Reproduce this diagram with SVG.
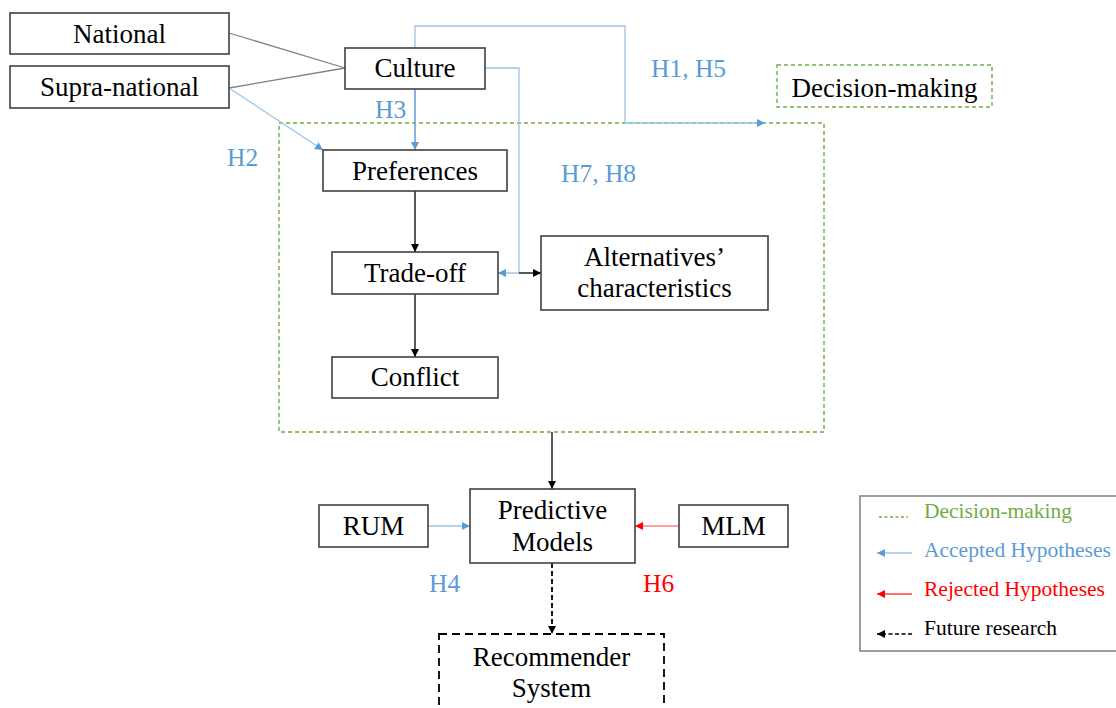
<svg xmlns="http://www.w3.org/2000/svg" width="1116" height="708" viewBox="0 0 1116 708">
<style>
.box{fill:#fff;stroke:#404040;stroke-width:1.6}
.t{font-family:"Liberation Serif","Times New Roman",serif;font-size:27px;fill:#000;text-anchor:middle}
.h{font-family:"Liberation Serif","Times New Roman",serif;font-size:25.5px}
.lg{font-family:"Liberation Serif","Times New Roman",serif;font-size:21.5px}
.blue{fill:#5B9BD5}
.red{fill:#FF0000}
.green{fill:#70AD47}
.gdash{fill:none;stroke:#70AD47;stroke-width:1.4;stroke-dasharray:4,3}
.lb{fill:none;stroke:#9DC3E6;stroke-width:1.3}
.k{fill:none;stroke:#000;stroke-width:1.3}
</style>
<defs>
<marker id="ab" viewBox="0 0 10 10" refX="10" refY="5" markerWidth="8" markerHeight="8" markerUnits="userSpaceOnUse" orient="auto"><path d="M0,0 L10,5 L0,10 z" fill="#5B9BD5"/></marker>
<marker id="ak" viewBox="0 0 10 10" refX="10" refY="5" markerWidth="8" markerHeight="8" markerUnits="userSpaceOnUse" orient="auto"><path d="M0,0 L10,5 L0,10 z" fill="#000"/></marker>
<marker id="ar" viewBox="0 0 10 10" refX="10" refY="5" markerWidth="8" markerHeight="8" markerUnits="userSpaceOnUse" orient="auto"><path d="M0,0 L10,5 L0,10 z" fill="#FF0000"/></marker>
</defs>
<rect width="1116" height="708" fill="#fff"/>

<!-- decision-making frame -->
<rect id="frame" x="279" y="123" width="545" height="309" class="gdash"/>

<g id="connectors">
<line x1="229" y1="33" x2="345" y2="68" stroke="#808080" stroke-width="1.3"/>
<line x1="229" y1="88" x2="345" y2="68" stroke="#808080" stroke-width="1.3"/>
<line x1="229" y1="88" x2="323" y2="150" class="lb" marker-end="url(#ab)"/>
<line x1="415" y1="89" x2="415" y2="150" stroke="#6A9BD1" stroke-width="1.5" marker-end="url(#ab)"/>
<polyline points="415,48 415,26 625,26 625,123 765,123" class="lb" marker-end="url(#ab)"/>
<polyline points="485,68 519,68 519,273 498,273" class="lb" marker-end="url(#ab)"/>
<line x1="519" y1="273" x2="541" y2="273" class="k" marker-end="url(#ak)"/>
<line x1="415" y1="191" x2="415" y2="252" class="k" marker-end="url(#ak)"/>
<line x1="415" y1="294" x2="415" y2="357" class="k" marker-end="url(#ak)"/>
<line x1="552" y1="432" x2="552" y2="489" class="k" marker-end="url(#ak)"/>
<line x1="428" y1="526" x2="470" y2="526" class="lb" marker-end="url(#ab)"/>
<line x1="679" y1="526" x2="635" y2="526" fill="none" stroke="#FF8080" stroke-width="1.3" marker-end="url(#ar)"/>
<line x1="552" y1="563" x2="552" y2="634" fill="none" stroke="#000" stroke-width="1.8" stroke-dasharray="5,3" marker-end="url(#ak)"/>
</g>

<g id="national"><rect x="10" y="13" width="219" height="41" class="box"/><text x="119.5" y="43" class="t">National</text></g>
<g id="supra"><rect x="10" y="66" width="219" height="42" class="box"/><text x="119.5" y="96" class="t">Supra-national</text></g>
<g id="culture"><rect x="345" y="48" width="140" height="41" class="box"/><text x="415" y="77" class="t">Culture</text></g>
<g id="preferences"><rect x="323" y="150" width="184" height="41" class="box"/><text x="415" y="180" class="t">Preferences</text></g>
<g id="tradeoff"><rect x="332" y="252" width="166" height="42" class="box"/><text x="415" y="282" class="t">Trade-off</text></g>
<g id="alternatives"><rect x="541" y="236" width="227" height="74" class="box"/><text x="654.5" y="266" class="t">Alternatives’</text><text x="654.5" y="297" class="t">characteristics</text></g>
<g id="conflict"><rect x="332" y="357" width="166" height="41" class="box"/><text x="415" y="386" class="t">Conflict</text></g>
<g id="decision"><rect x="777" y="65" width="215" height="42" class="gdash"/><text x="884.5" y="97" class="t">Decision-making</text></g>
<g id="predictive"><rect x="470" y="489" width="165" height="74" class="box"/><text x="552.5" y="519" class="t">Predictive</text><text x="552.5" y="551" class="t">Models</text></g>
<g id="rum"><rect x="319" y="505" width="109" height="42" class="box"/><text x="373.5" y="535" class="t">RUM</text></g>
<g id="mlm"><rect x="679" y="505" width="109" height="42" class="box"/><text x="733.5" y="535" class="t">MLM</text></g>
<g id="recommender"><rect x="439" y="634" width="225" height="90" fill="#fff" stroke="#000" stroke-width="1.8" stroke-dasharray="8,5"/><text x="551.5" y="666" class="t">Recommender</text><text x="551.5" y="697" class="t">System</text></g>

<g id="labels">
<text x="375" y="118" class="h blue">H3</text>
<text x="227" y="166" class="h blue">H2</text>
<text x="651" y="77" class="h blue">H1, H5</text>
<text x="561" y="182" class="h blue">H7, H8</text>
<text x="429" y="592" class="h blue">H4</text>
<text x="643" y="592" class="h red">H6</text>
</g>

<g id="legend">
<rect x="860" y="496" width="262" height="155" fill="#fff" stroke="#7F7F7F" stroke-width="1.5"/>
<line x1="879" y1="517" x2="908" y2="517" stroke="#70AD47" stroke-width="1.3" stroke-dasharray="3,2.5"/>
<text x="924" y="518" class="lg green">Decision-making</text>
<line x1="912" y1="553" x2="877" y2="553" class="lb" marker-end="url(#ab)"/>
<text x="924" y="557" class="lg blue">Accepted Hypotheses</text>
<line x1="912" y1="594" x2="877" y2="594" stroke="#FF4040" stroke-width="1.3" marker-end="url(#ar)"/>
<text x="924" y="596" class="lg red">Rejected Hypotheses</text>
<line x1="912" y1="634" x2="877" y2="634" stroke="#000" stroke-width="1.6" stroke-dasharray="4,2.5" marker-end="url(#ak)"/>
<text x="924" y="635" class="lg" fill="#000">Future research</text>
</g>
</svg>
